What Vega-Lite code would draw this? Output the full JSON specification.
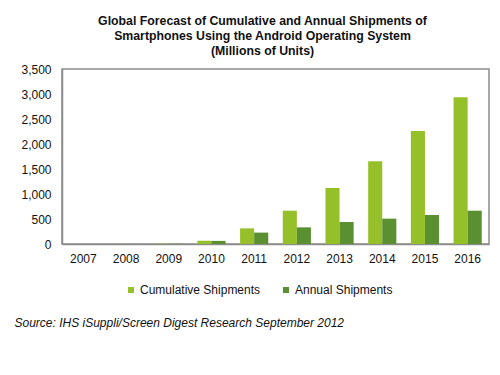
{
  "$schema": "https://vega.github.io/schema/vega-lite/v6.json",
  "width": 427,
  "height": 175,
  "autosize": {"type": "none"},
  "padding": {"left": 62, "top": 69, "right": 11, "bottom": 131},
  "background": "white",
  "title": {
    "text": ["Global Forecast of Cumulative and Annual  Shipments of", "Smartphones Using the Android Operating System", "(Millions of Units)"],
    "font": "Liberation Sans",
    "fontSize": 12.3,
    "fontWeight": "bold",
    "color": "#111111",
    "anchor": "middle",
    "dx": -13,
    "offset": 6,
    "lineHeight": 15
  },
  "data": {
    "values": [
      {"year": "2007", "series": "Cumulative Shipments", "value": 0},
      {"year": "2007", "series": "Annual Shipments", "value": 0},
      {"year": "2008", "series": "Cumulative Shipments", "value": 1},
      {"year": "2008", "series": "Annual Shipments", "value": 1},
      {"year": "2009", "series": "Cumulative Shipments", "value": 5},
      {"year": "2009", "series": "Annual Shipments", "value": 4},
      {"year": "2010", "series": "Cumulative Shipments", "value": 65},
      {"year": "2010", "series": "Annual Shipments", "value": 62},
      {"year": "2011", "series": "Cumulative Shipments", "value": 313},
      {"year": "2011", "series": "Annual Shipments", "value": 228},
      {"year": "2012", "series": "Cumulative Shipments", "value": 666},
      {"year": "2012", "series": "Annual Shipments", "value": 333},
      {"year": "2013", "series": "Cumulative Shipments", "value": 1120},
      {"year": "2013", "series": "Annual Shipments", "value": 440},
      {"year": "2014", "series": "Cumulative Shipments", "value": 1653},
      {"year": "2014", "series": "Annual Shipments", "value": 507},
      {"year": "2015", "series": "Cumulative Shipments", "value": 2260},
      {"year": "2015", "series": "Annual Shipments", "value": 580},
      {"year": "2016", "series": "Cumulative Shipments", "value": 2934},
      {"year": "2016", "series": "Annual Shipments", "value": 666}
    ]
  },
  "mark": {"type": "bar"},
  "encoding": {
    "x": {
      "field": "year",
      "type": "ordinal",
      "scale": {"paddingInner": 0.34, "paddingOuter": 0.17},
      "axis": {
        "title": "Source: IHS iSuppli/Screen Digest Research September 2012",
        "titleFont": "Liberation Sans",
        "titleFontSize": 12,
        "titleFontStyle": "italic",
        "titleFontWeight": "normal",
        "titleColor": "#111111",
        "titleAnchor": "start",
        "titleAlign": "left",
        "titleBaseline": "middle",
        "titleX": -48,
        "titleY": 78,
        "labelAngle": 0,
        "labelFont": "Liberation Sans",
        "labelFontSize": 12,
        "labelColor": "#111111",
        "labelPadding": 9,
        "ticks": false,
        "domainColor": "#8c8c8c",
        "domainWidth": 1.5
      }
    },
    "xOffset": {
      "field": "series",
      "type": "nominal",
      "sort": ["Cumulative Shipments", "Annual Shipments"]
    },
    "y": {
      "field": "value",
      "type": "quantitative",
      "scale": {"domain": [0, 3500], "nice": false},
      "axis": {
        "title": null,
        "values": [0, 500, 1000, 1500, 2000, 2500, 3000, 3500],
        "format": ",.0f",
        "grid": false,
        "ticks": false,
        "labelFont": "Liberation Sans",
        "labelFontSize": 12,
        "labelColor": "#111111",
        "labelPadding": 11,
        "domainColor": "#8c8c8c",
        "domainWidth": 1.5
      }
    },
    "color": {
      "field": "series",
      "type": "nominal",
      "sort": ["Cumulative Shipments", "Annual Shipments"],
      "scale": {"domain": ["Cumulative Shipments", "Annual Shipments"], "range": ["#96c02a", "#5a8f32"]},
      "legend": {
        "title": null,
        "orient": "none",
        "direction": "horizontal",
        "legendX": 63,
        "legendY": 215,
        "symbolType": "square",
        "symbolSize": 36,
        "symbolStrokeWidth": 0,
        "labelFont": "Liberation Sans",
        "labelFontSize": 12,
        "labelColor": "#111111",
        "labelOffset": 3,
        "columnPadding": 19
      }
    }
  },
  "config": {
    "view": {"stroke": "#8c8c8c", "strokeWidth": 1.5}
  }
}
